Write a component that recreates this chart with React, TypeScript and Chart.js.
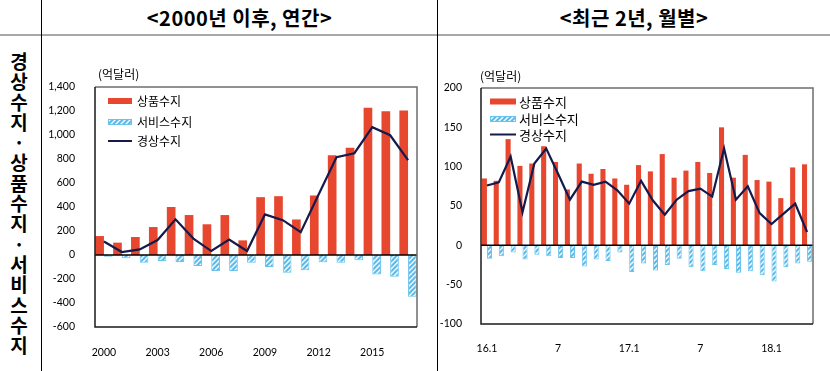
import React, { useEffect, useRef } from 'react';
import { Chart, registerables } from 'chart.js';

Chart.register(...registerables);

// ---------- data: annual (억달러) ----------
const years = ['2000','2001','2002','2003','2004','2005','2006','2007','2008','2009','2010','2011','2012','2013','2014','2015','2016','2017'];
const yearTickLabels = ['2000','','','2003','','','2006','','','2009','','','2012','','','2015','',''];
const goodsAnnual = [158, 103, 150, 233, 400, 333, 256, 333, 122, 482, 490, 296, 496, 832, 893, 1227, 1198, 1204];
const servicesAnnual = [-14, -28, -65, -50, -58, -92, -133, -133, -65, -100, -148, -127, -60, -65, -43, -162, -182, -348];
const currentAnnual = [112, 25, 47, 125, 297, 137, 33, 128, 33, 338, 290, 190, 504, 815, 848, 1065, 998, 790];

// ---------- data: monthly (억달러) ----------
const months = ['16.1','16.2','16.3','16.4','16.5','16.6','16.7','16.8','16.9','16.10','16.11','16.12',
  '17.1','17.2','17.3','17.4','17.5','17.6','17.7','17.8','17.9','17.10','17.11','17.12',
  '18.1','18.2','18.3','18.4'];
const monthTickLabels = ['16.1','','','','','','7','','','','','','17.1','','','','','','7','','','','','','18.1','','',''];
const goodsMonthly = [85, 82, 135, 101, 104, 126, 106, 71, 104, 91, 97, 85, 77, 102, 94, 116, 86, 95, 106, 92, 150, 86, 115, 83, 81, 60, 99, 103];
const servicesMonthly = [-17, -14, -9, -18, -12, -14, -16, -16, -27, -18, -20, -9, -34, -23, -32, -25, -17, -28, -33, -25, -30, -35, -33, -38, -46, -28, -23, -21];
const currentMonthly = [76, 80, 113, 42, 104, 123, 91, 58, 81, 77, 81, 70, 53, 82, 57, 39, 58, 69, 72, 62, 123, 58, 75, 41, 27, 40, 53, 17];

const seriesNames = ['상품수지', '서비스수지', '경상수지'];
const unitLabel = '(억달러)';

const RED = '#e8472f';
const BLUE_BASE = '#5cbbe9';
const BLUE_BORDER = '#68c3ee';
const NAVY = '#141a4b';
const FONT_KR = '"Noto Sans CJK KR", "Noto Sans", sans-serif';
const FONT_NUM = 'Lato, "Liberation Sans", sans-serif';

function makeHatch(): CanvasPattern | string {
  const c = document.createElement('canvas');
  c.width = 5;
  c.height = 5;
  const g = c.getContext('2d');
  if (!g) return BLUE_BASE;
  g.fillStyle = BLUE_BASE;
  g.fillRect(0, 0, 5, 5);
  g.strokeStyle = '#ffffff';
  g.lineWidth = 1.3;
  g.beginPath();
  g.moveTo(-1, 6); g.lineTo(6, -1);
  g.moveTo(-1, 1); g.lineTo(1, -1);
  g.moveTo(4, 6); g.lineTo(6, 4);
  g.stroke();
  return g.createPattern(c, 'repeat') || BLUE_BASE;
}

type Cfg = {
  width: number; height: number;
  yAxisWidth: number; xAxisHeight: number;
  padTop: number; padRight: number;
  yTickPad: number; xTickPad: number;
  min: number; max: number; step: number;
  catPct: number;
  legendX: number; legendRows: number[]; legendBoxW: number; legendTextGap: number; legendFont: number;
  unitX: number; unitY: number;
  lineWidth: number;
};

function makePlugin(cfg: Cfg, hatch: CanvasPattern | string) {
  return {
    id: 'frameLegend',
    afterDatasetsDraw(chart: any) {
      const { ctx, chartArea: a, scales } = chart;
      const y0 = scales.y.getPixelForValue(0);
      ctx.save();
      ctx.strokeStyle = '#000';
      ctx.lineWidth = 1.5;
      ctx.beginPath();
      ctx.moveTo(a.left, y0);
      ctx.lineTo(a.right, y0);
      ctx.stroke();
      ctx.strokeStyle = '#6e6e6e';
      ctx.lineWidth = 1.5;
      ctx.beginPath();
      ctx.moveTo(a.left, a.top);
      ctx.lineTo(a.right, a.top);
      ctx.lineTo(a.right, a.bottom);
      ctx.stroke();
      ctx.strokeStyle = '#1a1a1a';
      ctx.beginPath();
      ctx.moveTo(a.left, a.top);
      ctx.lineTo(a.left, a.bottom);
      ctx.lineTo(a.right, a.bottom);
      ctx.stroke();
      ctx.restore();
    },
    afterDraw(chart: any) {
      const { ctx, chartArea: a } = chart;
      ctx.save();
      const bx = a.left + cfg.legendX;
      const w = cfg.legendBoxW;
      ctx.font = `${cfg.legendFont}px ${FONT_KR}`;
      ctx.textBaseline = 'middle';
      ctx.textAlign = 'left';
      // goods
      let y = a.top + cfg.legendRows[0];
      ctx.fillStyle = RED;
      ctx.fillRect(bx, y - 3, w, 6);
      ctx.fillStyle = '#000';
      ctx.fillText(seriesNames[0], bx + w + cfg.legendTextGap, y + 0.5);
      // services
      y = a.top + cfg.legendRows[1];
      ctx.fillStyle = hatch as any;
      ctx.fillRect(bx, y - 3, w, 6);
      ctx.strokeStyle = BLUE_BORDER;
      ctx.lineWidth = 1;
      ctx.strokeRect(bx + 0.5, y - 2.5, w - 1, 5);
      ctx.fillStyle = '#000';
      ctx.fillText(seriesNames[1], bx + w + cfg.legendTextGap, y + 0.5);
      // current
      y = a.top + cfg.legendRows[2];
      ctx.strokeStyle = NAVY;
      ctx.lineWidth = 2;
      ctx.beginPath();
      ctx.moveTo(bx, y);
      ctx.lineTo(bx + w, y);
      ctx.stroke();
      ctx.fillStyle = '#000';
      ctx.fillText(seriesNames[2], bx + w + cfg.legendTextGap, y + 0.5);
      // unit
      ctx.font = `12px ${FONT_KR}`;
      ctx.fillText(unitLabel, a.left + cfg.unitX, a.top + cfg.unitY);
      ctx.restore();
    },
  };
}

function BalanceChart(props: {
  cfg: Cfg; labels: string[]; tickLabels: string[];
  goods: number[]; services: number[]; current: number[];
  left: number; top: number;
}) {
  const ref = useRef<HTMLCanvasElement | null>(null);
  const { cfg, labels, tickLabels, goods, services, current, left, top } = props;
  useEffect(() => {
    if (!ref.current) return;
    const hatch = makeHatch();
    const chart = new Chart(ref.current, {
      type: 'bar',
      data: {
        labels,
        datasets: [
          { type: 'line', label: seriesNames[2], data: current, borderColor: NAVY, backgroundColor: NAVY, borderWidth: cfg.lineWidth, pointRadius: 0, tension: 0, order: 0 } as any,
          { type: 'bar', label: seriesNames[0], data: goods, backgroundColor: RED, borderWidth: 0, categoryPercentage: cfg.catPct, barPercentage: 1, order: 1 } as any,
          { type: 'bar', label: seriesNames[1], data: services, backgroundColor: hatch as any, borderColor: BLUE_BORDER, borderWidth: 1, categoryPercentage: cfg.catPct, barPercentage: 1, order: 1 } as any,
        ],
      },
      options: {
        animation: false,
        responsive: false,
        devicePixelRatio: 1,
        layout: { padding: { top: cfg.padTop, right: cfg.padRight, left: 0, bottom: 0 } },
        plugins: { legend: { display: false }, tooltip: { enabled: false } },
        scales: {
          x: {
            grid: { display: false },
            border: { display: false },
            ticks: {
              autoSkip: false, maxRotation: 0, minRotation: 0, padding: cfg.xTickPad, color: '#000',
              font: { family: FONT_NUM, size: 10.5 },
              callback: (_v: any, i: number) => tickLabels[i],
            },
            afterFit: (s: any) => { s.height = cfg.xAxisHeight; },
          },
          y: {
            min: cfg.min, max: cfg.max,
            grid: { display: false },
            border: { display: false },
            ticks: {
              stepSize: cfg.step, padding: cfg.yTickPad, color: '#000',
              font: { family: FONT_NUM, size: 10.5 },
              callback: (v: any) => Number(v).toLocaleString('en-US'),
            },
            afterFit: (s: any) => { s.width = cfg.yAxisWidth; },
          },
        },
      } as any,
      plugins: [makePlugin(cfg, hatch)],
    });
    return () => chart.destroy();
  }, []);
  return (
    <canvas
      ref={ref}
      width={cfg.width}
      height={cfg.height}
      style={{ position: 'absolute', left, top, width: cfg.width, height: cfg.height }}
    />
  );
}

const leftCfg: Cfg = {
  width: 393, height: 334, yAxisWidth: 52, xAxisHeight: 44, padTop: 50, padRight: 19,
  yTickPad: 12, xTickPad: 11, min: -600, max: 1400, step: 200, catPct: 0.97,
  legendX: 13, legendRows: [14, 35, 54], legendBoxW: 24, legendTextGap: 5, legendFont: 12,
  unitX: 3, unitY: -13, lineWidth: 2.2,
};

const rightCfg: Cfg = {
  width: 392, height: 334, yAxisWidth: 43, xAxisHeight: 47, padTop: 51, padRight: 17,
  yTickPad: 11, xTickPad: 10, min: -100, max: 200, step: 50, catPct: 0.86,
  legendX: 9, legendRows: [13.5, 31, 46.5], legendBoxW: 26, legendTextGap: 3, legendFont: 13,
  unitX: -1, unitY: -12, lineWidth: 2.2,
};

const sideChars = ['경','상','수','지','·','상','품','수','지','·','서','비','스','수','지'];

export default function App() {
  return (
    <div style={{ position: 'absolute', left: 0, top: 0, width: 830, height: 371, background: '#fff', overflow: 'hidden' }}>
      {/* grid lines */}
      <div style={{ position: 'absolute', left: 0, top: 34, width: 830, height: 2, background: '#a8a8a8' }} />
      <div style={{ position: 'absolute', left: 41, top: 0, width: 1, height: 371, background: '#000' }} />
      <div style={{ position: 'absolute', left: 437, top: 0, width: 1, height: 371, background: '#000' }} />
      {/* headers */}
      <div style={{ position: 'absolute', left: 42, top: 0, width: 395, height: 34, display: 'flex', alignItems: 'center', justifyContent: 'center', fontFamily: FONT_KR, fontWeight: 700, fontSize: 20, letterSpacing: 0.5, color: '#000', whiteSpace: 'pre' }}>
        {'<2000년 이후, 연간>'}
      </div>
      <div style={{ position: 'absolute', left: 438, top: 0, width: 392, height: 34, display: 'flex', alignItems: 'center', justifyContent: 'center', fontFamily: FONT_KR, fontWeight: 700, fontSize: 20, letterSpacing: 0.5, color: '#000', whiteSpace: 'pre' }}>
        {'<최근 2년, 월별>'}
      </div>
      {/* side label */}
      <div style={{ position: 'absolute', left: 0, top: 51, width: 38, fontFamily: FONT_KR, fontWeight: 700, fontSize: 19, lineHeight: '20.3px', textAlign: 'center', color: '#000' }}>
        {sideChars.map((c, i) => (<div key={i}>{c}</div>))}
      </div>
      <BalanceChart cfg={leftCfg} labels={years} tickLabels={yearTickLabels} goods={goodsAnnual} services={servicesAnnual} current={currentAnnual} left={43} top={37} />
      <BalanceChart cfg={rightCfg} labels={months} tickLabels={monthTickLabels} goods={goodsMonthly} services={servicesMonthly} current={currentMonthly} left={438} top={37} />
    </div>
  );
}
